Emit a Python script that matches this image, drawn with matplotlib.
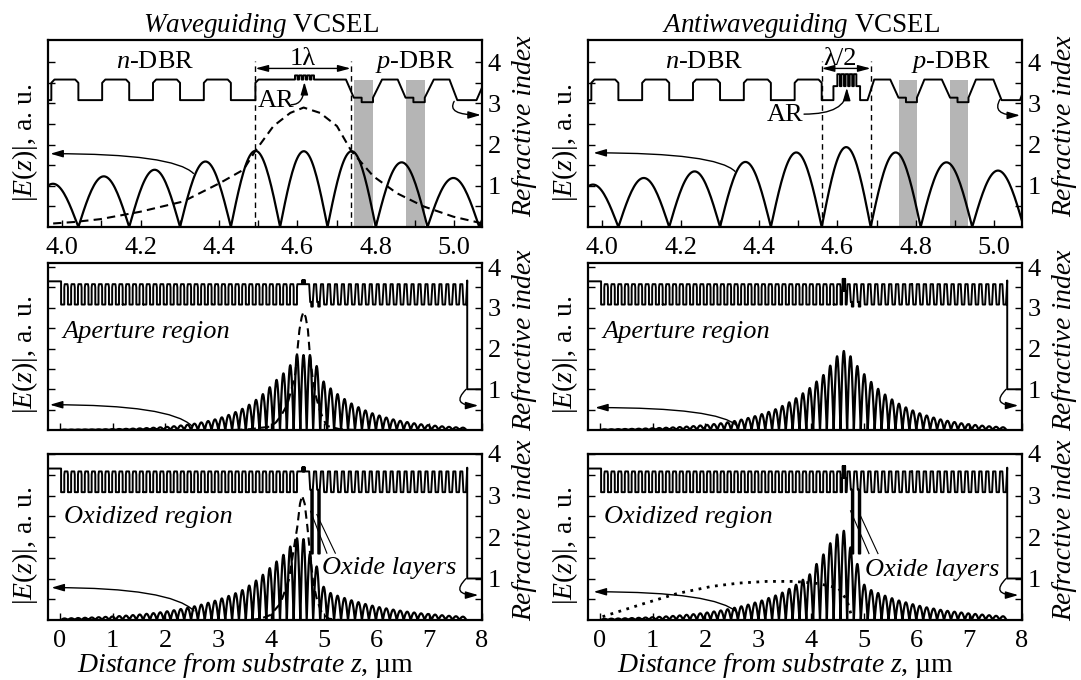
import numpy as np
import matplotlib
matplotlib.use("Agg")
import matplotlib.pyplot as plt

plt.rcParams['font.family'] = ['Liberation Serif', 'DejaVu Serif']
plt.rcParams['mathtext.fontset'] = 'custom'
plt.rcParams['mathtext.rm'] = 'Liberation Serif'
plt.rcParams['mathtext.it'] = 'Liberation Serif:italic'
plt.rcParams['mathtext.bf'] = 'Liberation Serif:bold'

# ---------------- refractive indices ----------------
N_SUB, N_HI, N_HI_EDGE, N_LO = 3.65, 3.58, 3.50, 3.08
N_GRAD, N_ALAS, N_OX, N_AIR, N_CAP = 3.14, 3.03, 1.6, 1.0, 3.67
N_QW_WG, N_QW_AWG, N_SCH_AWG = 3.68, 3.71, 3.42

# ---------------- layer structure (um) ----------------
SUB_END = 0.022
NDBR_PERIOD, NDBR_LOW, NDBR_CHAMFER = 0.12966, 0.0607, 0.008
WG_NDBR_PAIRS, AWG_NDBR_PAIRS = 34, 35
WG_CAVITY = (4.493, 4.724)
WG_QW_START, AWG_QW_START = 4.594, 4.600
QW_WIDTH, QW_BARRIER, N_QWS = 0.0065, 0.004, 5
AWG_SCH = (4.590, 4.658)
AWG_RAMP = (4.677, 4.694)
# p-DBR: start, period, fall end, AlAs start, low end, rise end (offsets in period)
WG_PDBR = (4.724, 0.132, 0.020, 0.040, 0.069, 0.092)
AWG_PDBR = (4.735, 0.1315, 0.021, 0.040, 0.068, 0.087)
PDBR_PAIRS, APERTURE_PAIRS = 22, 2
SURFACE = 7.72

# ---------------- field |E(z)| : nodes and arch peaks ----------------
WG_CAV_NODES = [4.556, 4.677]
WG_PNODE_START, WG_PNODE_STEP = 4.80, 0.132
AWG_CAV_NODES = [4.685]
AWG_PNODE_START, AWG_PNODE_STEP = 4.8125, 0.1315

WG_AP_N = [0.010, 0.011, 0.012, 0.013, 0.014, 0.016, 0.018, 0.021, 0.024, 0.028,
           0.033, 0.039, 0.046, 0.055, 0.065, 0.077, 0.092, 0.11, 0.13, 0.155,
           0.185, 0.22, 0.26, 0.31, 0.37, 0.44, 0.52, 0.62, 0.74, 0.88,
           1.05, 1.23, 1.39, 1.59]
WG_AP_CAV = [1.85, 1.84, 1.84]
WG_AP_P = [1.57, 1.19, 1.02, 0.88, 0.76, 0.65, 0.56, 0.48, 0.41, 0.355, 0.305,
           0.26, 0.225, 0.195, 0.165, 0.14, 0.12, 0.105, 0.09, 0.077, 0.066, 0.057]

WG_OX_N = [0.037, 0.042, 0.047, 0.053, 0.06, 0.067, 0.075, 0.084, 0.094, 0.105,
           0.118, 0.132, 0.148, 0.165, 0.185, 0.21, 0.235, 0.265, 0.295, 0.33,
           0.37, 0.415, 0.465, 0.52, 0.58, 0.645, 0.72, 0.83, 0.95, 1.09,
           1.25, 1.41, 1.57, 1.77]
WG_OX_CAV = [1.97, 1.95, 1.6]
WG_OX_P = [1.29, 0.80, 0.65, 0.585, 0.53, 0.475, 0.43, 0.385, 0.345, 0.31, 0.28,
           0.25, 0.225, 0.2, 0.18, 0.16, 0.145, 0.13, 0.115, 0.10, 0.09, 0.08]

AWG_AP_N = [0.016, 0.018, 0.021, 0.024, 0.027, 0.031, 0.036, 0.042, 0.048, 0.055,
            0.063, 0.072, 0.083, 0.095, 0.11, 0.125, 0.145, 0.165, 0.19, 0.22,
            0.255, 0.295, 0.34, 0.39, 0.445, 0.51, 0.59, 0.68, 0.78, 0.90,
            1.03, 1.19, 1.35, 1.58, 1.81]
AWG_AP_CAV = [1.94, 1.81]
AWG_AP_P = [1.57, 1.37, 1.18, 1.01, 0.87, 0.75, 0.645, 0.555, 0.48, 0.41, 0.355,
            0.305, 0.26, 0.225, 0.195, 0.165, 0.143, 0.123, 0.106, 0.091, 0.078, 0.067]

AWG_OX_N = [0.028, 0.032, 0.036, 0.041, 0.046, 0.052, 0.059, 0.067, 0.076, 0.086,
            0.097, 0.11, 0.125, 0.14, 0.16, 0.18, 0.205, 0.23, 0.26, 0.295,
            0.33, 0.37, 0.42, 0.47, 0.53, 0.59, 0.66, 0.75, 0.85, 0.97,
            1.1, 1.35, 1.58, 1.85, 2.06]
AWG_OX_CAV = [2.15, 1.75]
AWG_OX_P = [1.35, 0.85, 0.72, 0.65, 0.585, 0.525, 0.47, 0.425, 0.38, 0.34, 0.305,
            0.275, 0.245, 0.22, 0.2, 0.18, 0.16, 0.145, 0.13, 0.115, 0.1, 0.09]

# dashed / dotted curves (z, value)
WG_AP_DASH_Z = [3.3, 3.6, 3.969, 4.029, 4.097, 4.199, 4.309, 4.403, 4.4625, 4.493,
                4.539, 4.582, 4.616, 4.658, 4.701, 4.738, 4.794, 4.854, 4.922,
                4.998, 5.066, 5.3, 5.6]
WG_AP_DASH_V = [0.0, 0.02, 0.08, 0.12, 0.19, 0.37, 0.62, 1.07, 1.39, 1.85,
                2.45, 2.77, 2.90, 2.77, 2.45, 1.84, 1.23, 0.82, 0.50,
                0.25, 0.10, 0.02, 0.0]
WG_OX_DASH_Z = [3.6, 3.8, 3.99, 4.18, 4.34, 4.43, 4.50, 4.55, 4.59, 4.64, 4.69,
                4.75, 4.80, 4.88, 4.97, 5.1, 5.3]
WG_OX_DASH_V = [0.0, 0.03, 0.12, 0.40, 0.97, 1.69, 2.25, 2.8, 3.0, 2.8, 2.25,
                1.5, 0.9, 0.45, 0.16, 0.03, 0.0]
AWG_OX_DOT_Z = [0.05, 0.82, 1.47, 2.12, 2.64, 3.16, 3.67, 4.13, 4.52, 4.68, 4.75, 4.78]
AWG_OX_DOT_V = [0.08, 0.39, 0.64, 0.81, 0.89, 0.93, 0.93, 0.88, 0.77, 0.48, 0.18, 0.05]

GRAY = '#b5b5b5'


def profile(kind, oxidized):
    c = NDBR_CHAMFER
    z = [-1.0, SUB_END]
    n = [N_SUB, N_SUB]
    pairs = WG_NDBR_PAIRS if kind == 'wg' else AWG_NDBR_PAIRS
    for k in range(pairs):
        s = SUB_END + k * NDBR_PERIOD
        e = s + NDBR_PERIOD
        r = s + NDBR_LOW
        z += [s, r, r, r + c, e - c, e, e]
        n += [N_LO, N_LO, N_HI_EDGE, N_HI, N_HI, N_HI_EDGE, N_LO]
    if kind == 'wg':
        a, b = WG_CAVITY
        z += [a, a, a + c]
        n += [N_LO, N_HI_EDGE, N_HI]
        q = WG_QW_START
        for i in range(N_QWS):
            z += [q, q, q + QW_WIDTH, q + QW_WIDTH]
            n += [N_HI, N_QW_WG, N_QW_WG, N_HI]
            q += QW_WIDTH + QW_BARRIER
        z += [b]
        n += [N_HI]
        p0, per, ff, fa, fl, fr = WG_PDBR
    else:
        lo, hi = AWG_SCH
        z += [lo, lo]
        n += [N_LO, N_SCH_AWG]
        q = AWG_QW_START
        for i in range(N_QWS):
            z += [q, q, q + QW_WIDTH, q + QW_WIDTH]
            n += [N_SCH_AWG, N_QW_AWG, N_QW_AWG, N_SCH_AWG]
            q += QW_WIDTH + QW_BARRIER
        p0, per, ff, fa, fl, fr = AWG_PDBR
        z += [hi, hi, AWG_RAMP[0], AWG_RAMP[1], p0]
        n += [N_SCH_AWG, N_LO, N_LO, N_HI, N_HI]
    for k in range(PDBR_PAIRS):
        s = p0 + k * per
        if k < APERTURE_PAIRS:
            na = N_OX if oxidized else N_ALAS
            z += [s, s + ff, s + fa, s + fa, s + fl, s + fl, s + fr, s + per]
            n += [N_HI, N_GRAD, N_GRAD, na, na, N_GRAD, N_HI, N_HI]
        else:
            z += [s, s + ff, s + fl, s + fr, s + per]
            n += [N_HI, N_LO, N_LO, N_HI, N_HI]
    s = p0 + PDBR_PAIRS * per
    z += [s, s + ff, s + fl, SURFACE, SURFACE, 9.0]
    n += [N_HI, N_LO, N_LO, N_CAP, N_AIR, N_AIR]
    return np.array(z), np.array(n)


def nodes_for(kind):
    if kind == 'wg':
        nn = [SUB_END + k * NDBR_PERIOD for k in range(WG_NDBR_PAIRS + 1)]
        nn += WG_CAV_NODES
        nn += [WG_PNODE_START + k * WG_PNODE_STEP for k in range(len(WG_AP_P) + 1)]
    else:
        nn = [SUB_END + k * NDBR_PERIOD for k in range(AWG_NDBR_PAIRS + 1)]
        nn += AWG_CAV_NODES
        nn += [AWG_PNODE_START + k * AWG_PNODE_STEP for k in range(len(AWG_AP_P) + 1)]
    return nn


def arch_curve(nodes, peaks, npts=40):
    zz, ee = [], []
    t = np.linspace(0, 1, npts)
    for a, b, p in zip(nodes[:-1], nodes[1:], peaks):
        zz.append(a + (b - a) * t)
        ee.append(p * np.sin(np.pi * t))
    return np.concatenate(zz), np.concatenate(ee)


W, H = 1081, 680
fig = plt.figure(figsize=(W / 100, H / 100), dpi=100)
COL_X = [48, 588]
AX_W = 434
ROWS = [(40, 227), (263, 430), (454, 620)]
YLIMS = [(0, 4.54), (0, 4.1), (0, 4.0)]
XLIMS = [(3.964, 5.071), (-0.226, 7.962), (-0.226, 7.962)]
FS = 19

fields = {
    ('wg', False): WG_AP_N + WG_AP_CAV + WG_AP_P,
    ('wg', True): WG_OX_N + WG_OX_CAV + WG_OX_P,
    ('awg', False): AWG_AP_N + AWG_AP_CAV + AWG_AP_P,
    ('awg', True): AWG_OX_N + AWG_OX_CAV + AWG_OX_P,
}


def arrow(ax, start, end, cs="arc3,rad=0", style='-|>,head_length=0.75,head_width=0.22'):
    ax.annotate('', xy=end, xytext=start,
                arrowprops=dict(arrowstyle=style, color='k', lw=1.0,
                                connectionstyle=cs, shrinkA=0, shrinkB=0),
                annotation_clip=False)


axes = {}
for c, kind in enumerate(['wg', 'awg']):
    for r in range(3):
        yt, yb = ROWS[r]
        ax = fig.add_axes([COL_X[c] / W, 1 - yb / H, AX_W / W, (yb - yt) / H])
        axes[(c, r)] = ax
        ox = (r == 2)
        zp, npf = profile(kind, ox)
        ax.plot(zp, npf, color='k', lw=1.4, zorder=3)
        zf, ef = arch_curve(nodes_for(kind), fields[(kind, ox)])
        ax.plot(zf, ef, color='k', lw=1.6, zorder=4)
        ax.set_xlim(*XLIMS[r])
        ax.set_ylim(*YLIMS[r])
        for s in ax.spines.values():
            s.set_linewidth(1.6)
        ax.tick_params(direction='in', length=5, width=1.0, left=True, right=True,
                       labelleft=False, labelright=True, labelsize=FS, pad=4)
        ax.tick_params(axis='x', pad=7)
        yt_vals = np.arange(0.5, 4.01, 0.5)
        ax.set_yticks(yt_vals)
        ax.set_yticklabels([str(int(v)) if v == int(v) else '' for v in yt_vals])
        if r == 0:
            xt = np.round(np.arange(4.0, 5.05, 0.1), 1)
            ax.set_xticks(xt)
            ax.set_xticklabels(['%.1f' % v if i % 2 == 0 else '' for i, v in enumerate(xt)])
        else:
            ax.set_xticks(range(0, 9))
            if r == 2:
                ax.set_xticklabels([str(v) for v in range(0, 9)])
            else:
                ax.set_xticklabels([])
        ax.text(-0.053, 0.45, r'$|E(z)|$, a. u.', transform=ax.transAxes, rotation=90,
                ha='center', va='center', fontsize=FS + 1)
        ax.text(1.098, 0.54, 'Refractive index', transform=ax.transAxes, rotation=90,
                ha='center', va='center', fontsize=FS + 1, fontstyle='italic')

# gray bands in the top panels (aperture layers' periods)
for c, pd in enumerate([WG_PDBR, AWG_PDBR]):
    ax = axes[(c, 0)]
    p0, per, ff, fa, fl, fr = pd
    for k in range(APERTURE_PAIRS):
        s = p0 + k * per
        ax.fill_between([s + ff, s + fl], 0, N_HI, color=GRAY, lw=0, zorder=1)

# dashed / dotted curves
for r in (0, 1):
    axes[(0, r)].plot(WG_AP_DASH_Z, WG_AP_DASH_V, color='k', lw=1.5, dashes=(4, 2.5), zorder=5)
axes[(0, 2)].plot(WG_OX_DASH_Z, WG_OX_DASH_V, color='k', lw=1.5, dashes=(4, 2.5), zorder=5)
axes[(1, 2)].plot(AWG_OX_DOT_Z, AWG_OX_DOT_V, color='k', lw=2.0, dashes=(1, 2), zorder=5)

# ---------------- top-left annotations ----------------
ax = axes[(0, 0)]
ax.text(4.237, 4.0, r'$n$-DBR', ha='center', va='center', fontsize=FS)
ax.text(4.90, 4.0, r'$p$-DBR', ha='center', va='center', fontsize=FS)
ax.text(4.615, 4.08, '1λ', ha='center', va='center', fontsize=FS)
for zl in (4.493, 4.736):
    ax.plot([zl, zl], [0, 4.02], color='k', lw=1.0, dashes=(4, 3), zorder=5)
arrow(ax, (4.493, 3.85), (4.736, 3.85), style='<|-|>,head_length=0.75,head_width=0.2')
ax.text(4.545, 3.07, 'AR', ha='center', va='center', fontsize=FS)
arrow(ax, (4.585, 2.97), (4.618, 3.52), cs="angle3,angleA=0,angleB=90")
arrow(ax, (4.335, 1.30), (3.970, 1.78), cs="angle3,angleA=135,angleB=0")
arrow(ax, (5.000, 3.05), (5.068, 2.72), cs="angle3,angleA=60,angleB=0")

# ---------------- top-right annotations ----------------
ax = axes[(1, 0)]
ax.text(4.259, 4.0, r'$n$-DBR', ha='center', va='center', fontsize=FS)
ax.text(4.89, 4.0, r'$p$-DBR', ha='center', va='center', fontsize=FS)
ax.text(4.606, 4.08, 'λ/2', ha='center', va='center', fontsize=FS)
for zl in (4.560, 4.685):
    ax.plot([zl, zl], [0, 4.02], color='k', lw=1.0, dashes=(4, 3), zorder=5)
arrow(ax, (4.560, 3.85), (4.685, 3.85), style='<|-|>,head_length=0.75,head_width=0.2')
ax.text(4.466, 2.72, 'AR', ha='center', va='center', fontsize=FS)
arrow(ax, (4.515, 2.74), (4.624, 3.38), cs="angle3,angleA=0,angleB=90")
arrow(ax, (4.339, 1.35), (3.978, 1.80), cs="angle3,angleA=135,angleB=0")
arrow(ax, (5.015, 3.10), (5.066, 2.71), cs="angle3,angleA=60,angleB=0")

# ---------------- middle annotations ----------------
for c, (st, tip) in enumerate([((2.50, 0.10), (-0.19, 0.62)), ((2.60, 0.10), (-0.09, 0.55))]):
    ax = axes[(c, 1)]
    ax.text(0.04, 2.41, 'Aperture region', ha='left', va='center', fontsize=FS, fontstyle='italic')
    arrow(ax, st, tip, cs="angle3,angleA=135,angleB=0")
    arrow(ax, (7.70, 1.0), (7.93, 0.60), cs="angle3,angleA=45,angleB=0")

# ---------------- bottom annotations ----------------
bottom_cfg = [
    dict(txt=(6.24, 1.25), l1=((5.06, 1.61), (4.75, 2.62)), l2=((5.22, 1.61), (4.87, 2.54)),
         st=(2.54, 0.22), tip=(-0.16, 0.78)),
    dict(txt=(6.29, 1.20), l1=((5.10, 1.60), (4.75, 2.63)), l2=((5.27, 1.60), (4.91, 2.59)),
         st=(2.60, 0.18), tip=(-0.12, 0.68)),
]
for c, cfg in enumerate(bottom_cfg):
    ax = axes[(c, 2)]
    ax.text(0.07, 2.49, 'Oxidized region', ha='left', va='center', fontsize=FS, fontstyle='italic')
    ax.text(*cfg['txt'], 'Oxide layers', ha='center', va='center', fontsize=FS, fontstyle='italic')
    for (a, b) in (cfg['l1'], cfg['l2']):
        ax.plot([a[0], b[0]], [a[1], b[1]], color='k', lw=0.8, zorder=5)
    arrow(ax, cfg['st'], cfg['tip'], cs="angle3,angleA=135,angleB=0")
    arrow(ax, (7.70, 1.0), (7.93, 0.60), cs="angle3,angleA=45,angleB=0")
    ax.text(0.456, -0.272, r'$\mathit{Distance\ from\ substrate\ z}$, µm', transform=ax.transAxes,
            ha='center', va='center', fontsize=FS + 1)

fig.text(261 / W, 1 - 25 / H, r'$\mathit{Waveguiding}$ VCSEL', ha='center', va='center', fontsize=FS + 0.5)
fig.text(801 / W, 1 - 25 / H, r'$\mathit{Antiwaveguiding}$ VCSEL', ha='center', va='center', fontsize=FS + 0.5)

fig.savefig('out.png', dpi=100)
